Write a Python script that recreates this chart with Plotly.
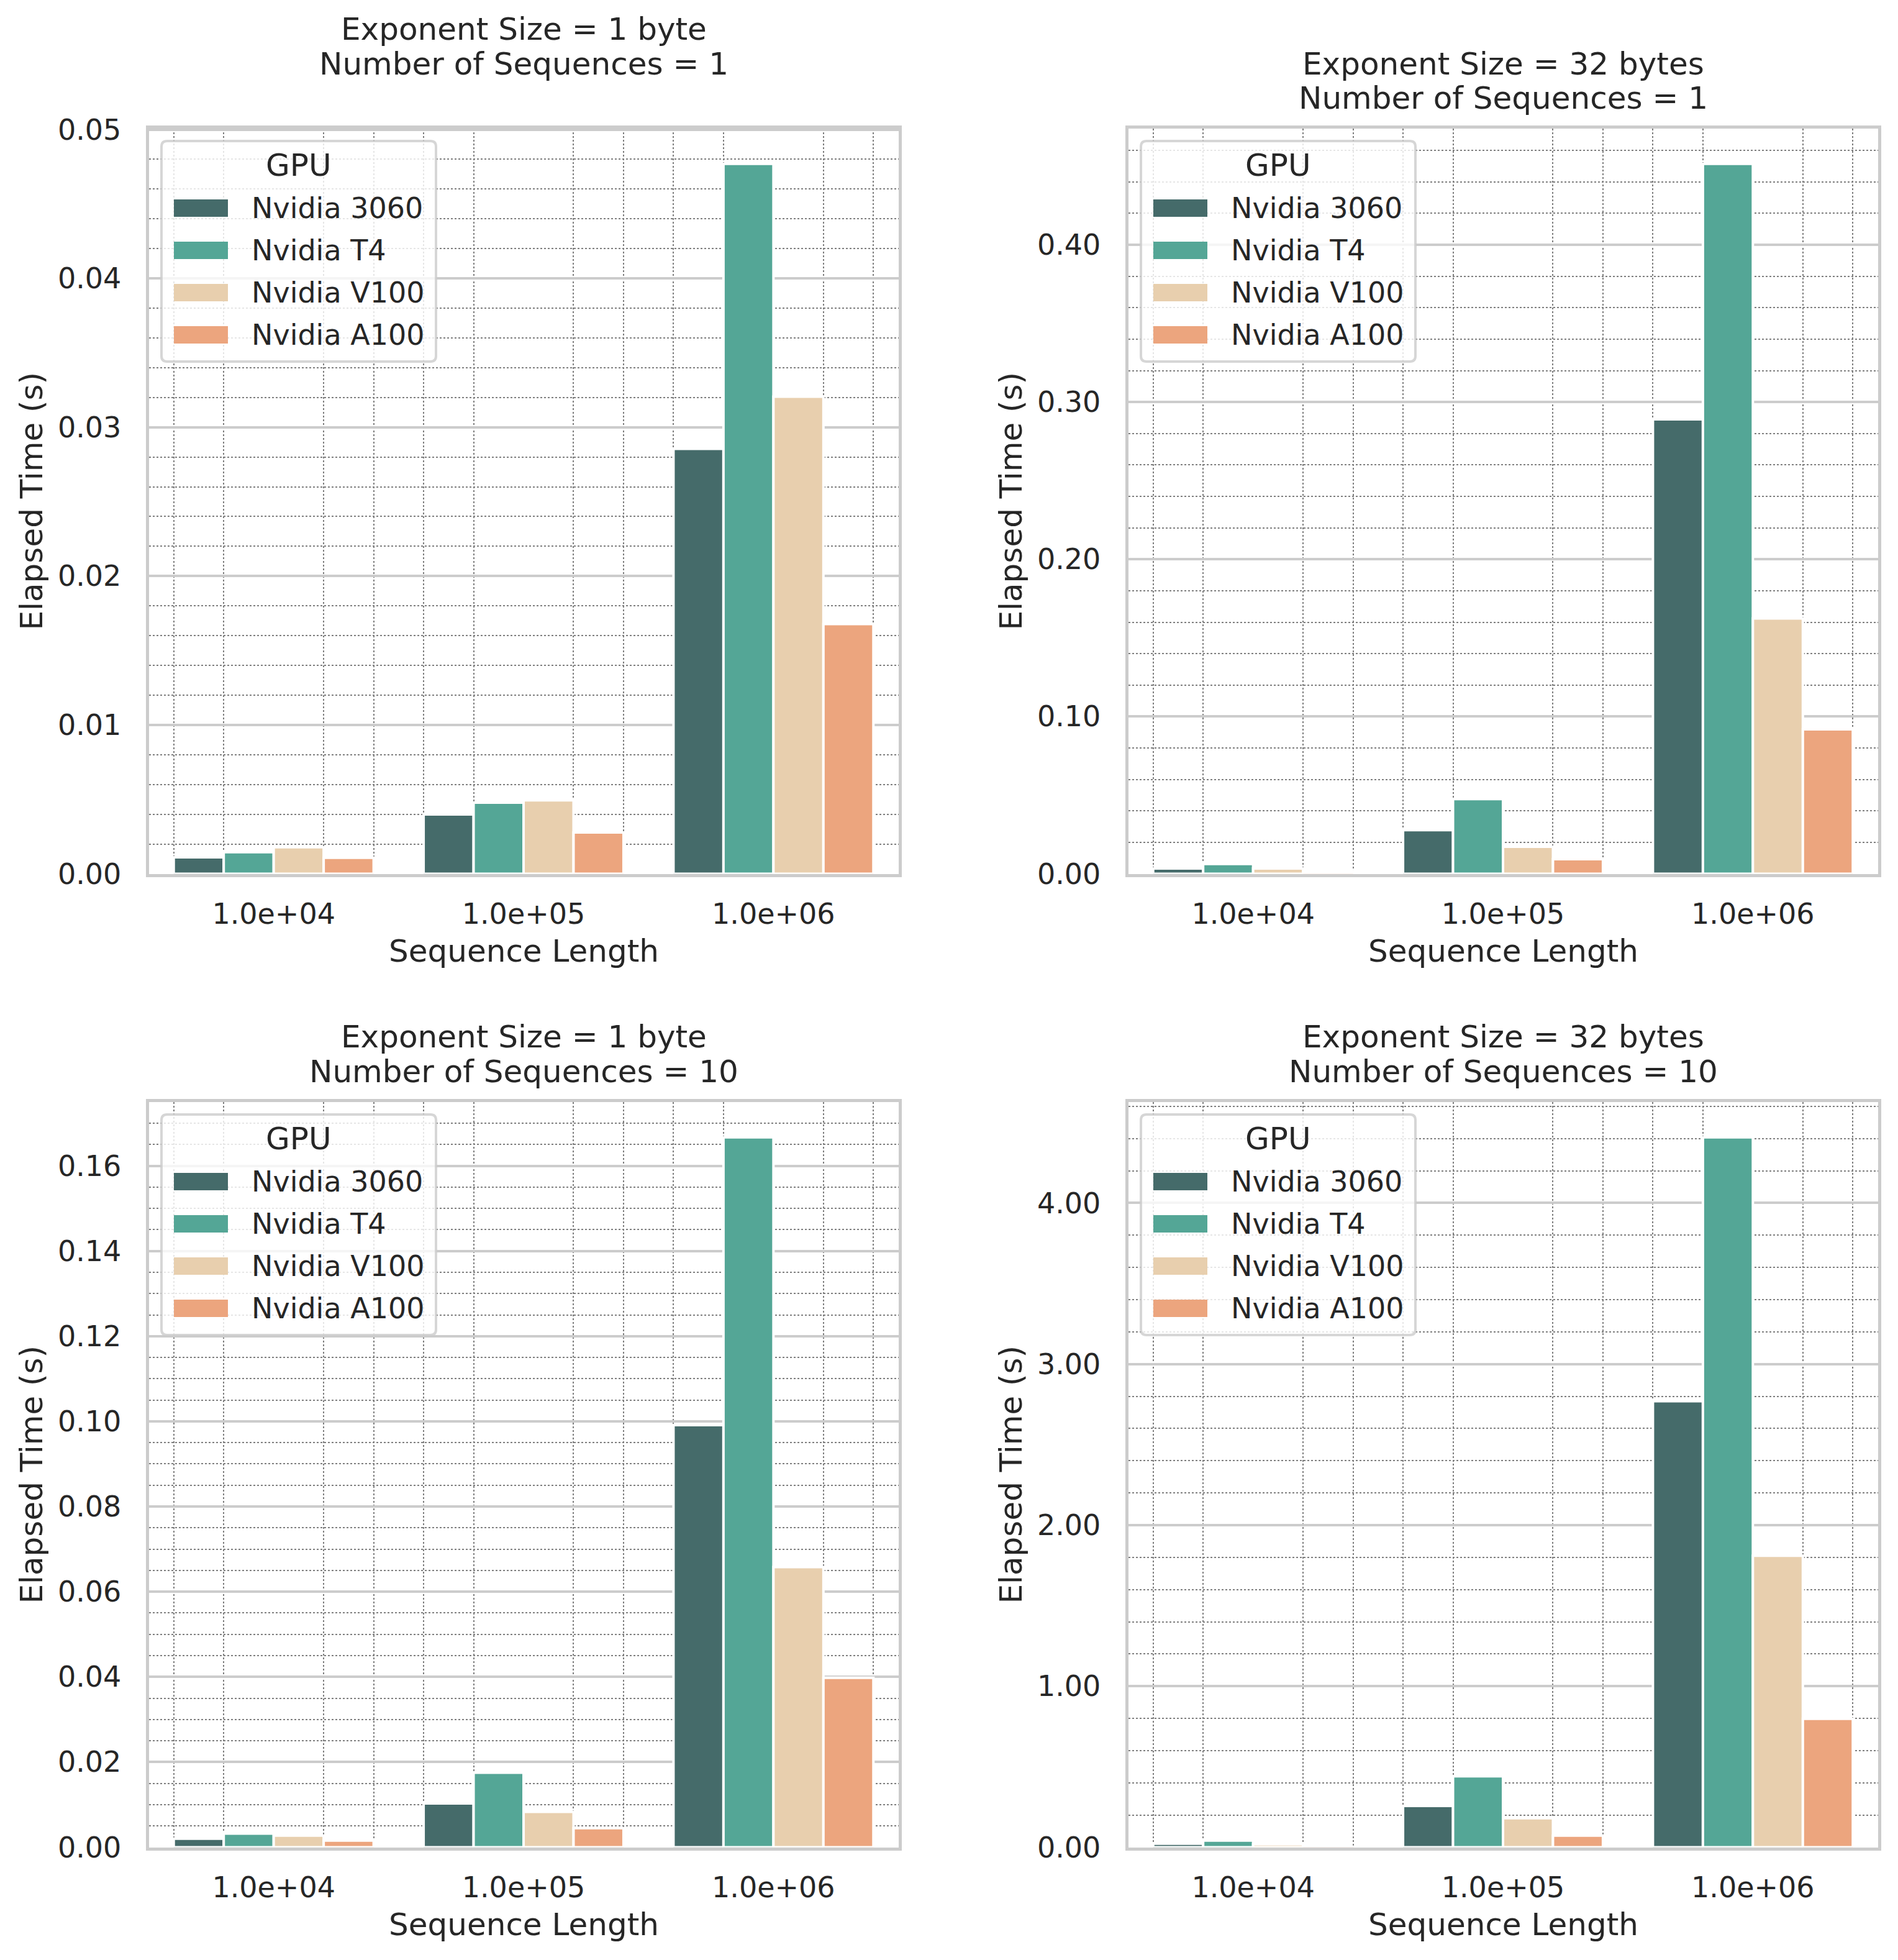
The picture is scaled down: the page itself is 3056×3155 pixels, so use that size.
import plotly.graph_objects as go
import numpy as np

W, H = 3056, 3155
OFF = 8  # default page margin around the plot div
FW, FH = W - OFF, H - OFF
FONT = "DejaVu Sans"
TXT = "#262626"

gpus = ["Nvidia 3060", "Nvidia T4", "Nvidia V100", "Nvidia A100"]
colors = ["#456b6a", "#54a696", "#e8cfae", "#eca57e"]
seq_labels = ["1.0e+04", "1.0e+05", "1.0e+06"]
seq_pos = [0, 1, 2]

# Exponent 1 byte, 1 sequence
tl_3060 = [0.00111, 0.00399, 0.02855]
tl_t4 = [0.00145, 0.00478, 0.0477]
tl_v100 = [0.00178, 0.00494, 0.03205]
tl_a100 = [0.00107, 0.00278, 0.01678]
# Exponent 32 bytes, 1 sequence
tr_3060 = [0.0034, 0.0278, 0.289]
tr_t4 = [0.0062, 0.0475, 0.4515]
tr_v100 = [0.0034, 0.0172, 0.1624]
tr_a100 = [0.0015, 0.0093, 0.0919]
# Exponent 1 byte, 10 sequences
bl_3060 = [0.0020, 0.0103, 0.0991]
bl_t4 = [0.0032, 0.0175, 0.1667]
bl_v100 = [0.00275, 0.0083, 0.0658]
bl_a100 = [0.00157, 0.0045, 0.0398]
# Exponent 32 bytes, 10 sequences
br_3060 = [0.022, 0.2565, 2.769]
br_t4 = [0.041, 0.441, 4.408]
br_v100 = [0.018, 0.18, 1.81]
br_a100 = [0.003, 0.072, 0.797]

titles = [
    ["Exponent Size = 1 byte", "Number of Sequences = 1", ""],
    ["Exponent Size = 32 bytes", "Number of Sequences = 1"],
    ["Exponent Size = 1 byte", "Number of Sequences = 10"],
    ["Exponent Size = 32 bytes", "Number of Sequences = 10"],
]
panel_data = [
    [tl_3060, tl_t4, tl_v100, tl_a100],
    [tr_3060, tr_t4, tr_v100, tr_a100],
    [bl_3060, bl_t4, bl_v100, bl_a100],
    [br_3060, br_t4, br_v100, br_a100],
]
major_dt = [0.01, 0.1, 0.02, 1.0]
minor_dt = [0.002, 0.02, 0.005, 0.2]

# axes boxes in page pixels (x0, x1, y0, y1), spine centres
boxes = [(237, 1449, 204, 1409), (1814, 3026, 204, 1409),
         (237, 1449, 1771, 2976), (1814, 3026, 1771, 2976)]
LW = 5


def px(x):
    return (x - OFF) / FW


def py(y):
    return 1 - (y - OFF) / FH


def rounded_rect(x0, y0, x1, y1, r):
    pts = [
        f"M{px(x0 + r)},{py(y0)}",
        f"L{px(x1 - r)},{py(y0)}",
        f"Q{px(x1)},{py(y0)} {px(x1)},{py(y0 + r)}",
        f"L{px(x1)},{py(y1 - r)}",
        f"Q{px(x1)},{py(y1)} {px(x1 - r)},{py(y1)}",
        f"L{px(x0 + r)},{py(y1)}",
        f"Q{px(x0)},{py(y1)} {px(x0)},{py(y1 - r)}",
        f"L{px(x0)},{py(y0 + r)}",
        f"Q{px(x0)},{py(y0)} {px(x0 + r)},{py(y0)}",
        "Z",
    ]
    return " ".join(pts)


fig = go.Figure()
layout = dict(
    width=FW, height=FH, margin=dict(l=0, r=0, t=0, b=0, pad=0, autoexpand=False),
    paper_bgcolor="white", plot_bgcolor="white",
    barmode="group", bargap=0.2, bargroupgap=0,
    showlegend=False, font=dict(family=FONT, color=TXT),
)
annotations = []
shapes = []
minor_x = [v for v in np.round(np.arange(-0.4, 2.5, 0.2), 6) if abs(v - round(v)) > 1e-6]

for i in range(4):
    x0, x1, y0, y1 = boxes[i]
    sfx = "" if i == 0 else str(i + 1)
    xa, ya = "x" + sfx, "y" + sfx
    vals = panel_data[i]
    ymax = max(max(v) for v in vals) * 1.05
    for k, g in enumerate(gpus):
        fig.add_trace(go.Bar(
            x=seq_pos, y=vals[k], name=g, xaxis=xa, yaxis=ya,
            marker=dict(color=colors[k], line=dict(color="white", width=4)),
            showlegend=False, offsetgroup=str(k),
        ))
    h = LW / 2
    layout["xaxis" + sfx] = dict(
        domain=[px(x0 + h), px(x1 - h)], anchor=ya, range=[-0.5, 2.5], automargin=False,
        tickmode="array", tickvals=seq_pos, ticktext=seq_labels,
        showgrid=False, zeroline=False, showline=True, linecolor="#cccccc",
        linewidth=LW, mirror=True, ticks="",
        tickfont=dict(size=46, color=TXT, family=FONT),
        ticklabelstandoff=20,
        minor=dict(tickmode="array", tickvals=minor_x, showgrid=True,
                   gridcolor="#808080", gridwidth=2, griddash="dot", ticks=""),
    )
    layout["yaxis" + sfx] = dict(
        domain=[py(y1 - h), py(y0 + h)], anchor=xa, range=[0, ymax], automargin=False,
        tick0=0, dtick=major_dt[i], tickformat=".2f",
        showgrid=True, gridcolor="#cccccc", gridwidth=4,
        zeroline=False, showline=True, linecolor="#cccccc", linewidth=LW,
        mirror=True, ticks="",
        tickfont=dict(size=46, color=TXT, family=FONT),
        ticklabelstandoff=30,
        minor=dict(tick0=0, dtick=minor_dt[i], showgrid=True,
                   gridcolor="#808080", gridwidth=2, griddash="dot", ticks=""),
    )
    cx = (x0 + x1) / 2
    cy = (y0 + y1) / 2
    # title lines (bottom-up)
    lines = titles[i]
    n = len(lines)
    for j, line in enumerate(lines):
        yline = y0 - 46 - (n - 1 - j) * 55.5
        if line:
            annotations.append(dict(text=line, x=px(cx), y=py(yline), xref="paper", yref="paper",
                                    xanchor="center", yanchor="middle", showarrow=False,
                                    font=dict(size=50, color=TXT, family=FONT)))
    # axis labels
    annotations.append(dict(text="Sequence Length", x=px(cx), y=py(y1 + 122), xref="paper", yref="paper",
                            xanchor="center", yanchor="middle", showarrow=False,
                            font=dict(size=50, color=TXT, family=FONT)))
    annotations.append(dict(text="Elapsed Time (s)", x=px(x0 - 187), y=py(cy), xref="paper", yref="paper",
                            xanchor="center", yanchor="middle", showarrow=False, textangle=-90,
                            font=dict(size=50, color=TXT, family=FONT)))
    # legend
    lx0, ly0, lx1, ly1 = x0 + 23, y0 + 23, x0 + 465, y0 + 378
    shapes.append(dict(type="path", path=rounded_rect(lx0, ly0, lx1, ly1, 9), xref="paper", yref="paper",
                       fillcolor="rgba(255,255,255,0.8)", line=dict(color="rgba(204,204,204,0.8)", width=4),
                       layer="above"))
    annotations.append(dict(text="GPU", x=px((lx0 + lx1) / 2), y=py(y0 + 61.5), xref="paper", yref="paper",
                            xanchor="center", yanchor="middle", showarrow=False,
                            font=dict(size=50, color=TXT, family=FONT)))
    for k, g in enumerate(gpus):
        ry = y0 + 131 + 68 * k
        shapes.append(dict(type="rect", x0=px(x0 + 43), x1=px(x0 + 130), y0=py(ry - 14), y1=py(ry + 14),
                           xref="paper", yref="paper", fillcolor=colors[k], line=dict(width=0), layer="above"))
        annotations.append(dict(text=g, x=px(x0 + 166), y=py(ry), xref="paper", yref="paper",
                                xanchor="left", yanchor="middle", showarrow=False,
                                font=dict(size=46, color=TXT, family=FONT)))

layout["annotations"] = annotations
layout["shapes"] = shapes
fig.update_layout(**layout)
fig.write_html("out.html")
